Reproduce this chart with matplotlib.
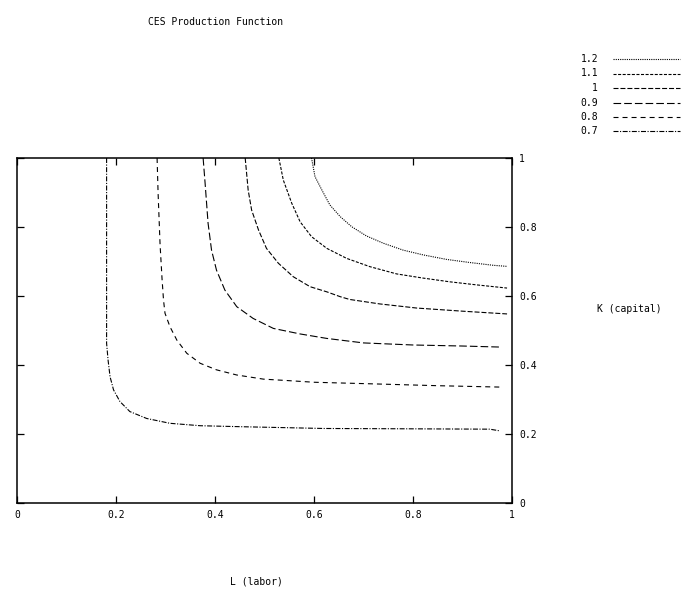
import matplotlib
matplotlib.use("Agg")
import matplotlib.pyplot as plt
from matplotlib.lines import Line2D

plt.rcParams["font.family"] = ["DejaVu Sans Mono"]
plt.rcParams["lines.scale_dashes"] = False

# contour levels (legend order) and traced iso-quant points (L, K)
levels = ["1.2", "1.1", "1", "0.9", "0.8", "0.7"]

L_12 = [0.595, 0.602, 0.616, 0.632, 0.653, 0.676, 0.706, 0.74, 0.78,
        0.821, 0.868, 0.915, 0.962, 0.989]
K_12 = [1.0, 0.946, 0.907, 0.864, 0.83, 0.801, 0.774, 0.753, 0.733,
        0.719, 0.706, 0.697, 0.689, 0.686]

L_11 = [0.529, 0.538, 0.555, 0.572, 0.595, 0.626, 0.666, 0.713, 0.767,
        0.82, 0.875, 0.93, 0.99]
K_11 = [1.0, 0.936, 0.869, 0.815, 0.772, 0.738, 0.709, 0.685, 0.664,
        0.652, 0.641, 0.632, 0.623]

L_10 = [0.461, 0.467, 0.474, 0.488, 0.504, 0.528, 0.558, 0.592, 0.626,
        0.653, 0.672, 0.733, 0.808, 0.9, 0.99]
K_10 = [1.0, 0.907, 0.849, 0.791, 0.738, 0.695, 0.656, 0.627, 0.612,
        0.598, 0.59, 0.577, 0.565, 0.556, 0.548]

L_09 = [0.376, 0.38, 0.386, 0.393, 0.403, 0.42, 0.444, 0.477, 0.518,
        0.572, 0.626, 0.7, 0.8, 0.9, 0.976]
K_09 = [1.0, 0.927, 0.811, 0.733, 0.675, 0.617, 0.569, 0.535, 0.506,
        0.49, 0.477, 0.464, 0.458, 0.455, 0.452]

L_08 = [0.283, 0.285, 0.289, 0.293, 0.296, 0.299, 0.309, 0.323, 0.343,
        0.37, 0.403, 0.444, 0.498, 0.545, 0.6, 0.727, 0.85, 0.976]
K_08 = [1.0, 0.9, 0.75, 0.65, 0.588, 0.55, 0.511, 0.472, 0.434,
        0.405, 0.386, 0.371, 0.359, 0.355, 0.35, 0.345, 0.34, 0.336]

L_07 = [0.181, 0.181, 0.184, 0.188, 0.195, 0.208, 0.228, 0.262, 0.309,
        0.37, 0.457, 0.62, 0.8, 0.955, 0.976]
K_07 = [1.0, 0.463, 0.414, 0.366, 0.328, 0.294, 0.265, 0.245, 0.231,
        0.224, 0.221, 0.216, 0.215, 0.214, 0.209]

curves = [(L_12, K_12), (L_11, K_11), (L_10, K_10),
          (L_09, K_09), (L_08, K_08), (L_07, K_07)]
styles = [(0, (0.8, 0.8)), (0, (2.2, 1.1)), (0, (3.6, 1.4)),
          (0, (5.5, 2.2)), (0, (3.6, 2.9)), (0, (3.6, 1.1, 0.8, 1.1))]

fig = plt.figure(figsize=(6.84, 5.97), dpi=100)
ax = fig.add_axes([17/684, 1 - 503/597, 495/684, 345/597])

for (xs, ys), ls in zip(curves, styles):
    ax.plot(xs, ys, color="black", lw=0.8, linestyle=ls)

ax.set_xlim(0, 1)
ax.set_ylim(0, 1)
ticks = [0, 0.2, 0.4, 0.6, 0.8, 1]
ax.set_xticks(ticks)
ax.set_xticklabels(["0", "0.2", "0.4", "0.6", "0.8", "1"])
ax.set_yticks(ticks)
ax.set_yticklabels(["0", "0.2", "0.4", "0.6", "0.8", "1"])
ax.tick_params(axis="both", direction="in", length=5, width=0.9,
               labelsize=7, top=True, right=True, left=True,
               labelleft=False, labelright=True, pad=5)
for s in ax.spines.values():
    s.set_linewidth(1.1)

fig.text(216/684, 1 - 22/597, "CES Production Function", fontsize=7,
         ha="center", va="center")
fig.text(256/684, 1 - 581/597, "L (labor)", fontsize=7, ha="center", va="center")
fig.text(629/684, 1 - 309/597, "K (capital)", fontsize=7, ha="center", va="center")

# legend drawn by hand, right-aligned labels like the original
for i, (lab, ls) in enumerate(zip(levels, styles)):
    yy = 1 - (59 + i * 14.5) / 597
    fig.text(598/684, yy, lab, fontsize=7, ha="right", va="center")
    fig.add_artist(Line2D([613/684, 680/684], [yy, yy], color="black",
                          lw=0.8, linestyle=ls, transform=fig.transFigure))

fig.savefig("out.png", dpi=100)
